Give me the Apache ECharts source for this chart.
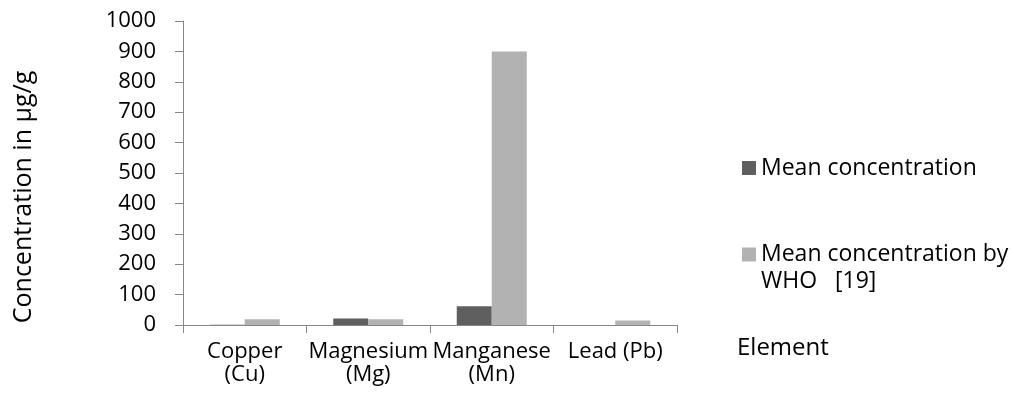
<!DOCTYPE html>
<html>
<head>
<meta charset="utf-8">
<script src="https://cdn.jsdelivr.net/npm/echarts@6/dist/echarts.min.js"></script>
<style>
html,body{margin:0;padding:0;background:#fff;}
#c{width:1013px;height:417px;}
</style>
</head>
<body>
<div id="c"></div>
<script>
const categories = ['Copper\n(Cu)', 'Magnesium\n(Mg)', 'Manganese\n(Mn)', 'Lead (Pb)'];
const meanConcentration = [0.5, 21, 62, 0.3];
const whoConcentration = [19, 19, 900, 15];
const seriesNames = ['Mean concentration', 'Mean concentration by\nWHO   [19]'];
const yTicks = { min: 0, max: 1000, interval: 100 };
const yAxisTitle = 'Concentration in µg/g';
const xAxisTitle = 'Element';

const FONT = 'Open Sans';
const FS = 22;
const chart = echarts.init(document.getElementById('c'), null, {renderer: 'canvas'});
chart.setOption({
  animation: false,
  backgroundColor: '#ffffff',
  textStyle: { fontFamily: FONT, color: '#000' },
  grid: { left: 183, right: 336, top: 21, bottom: 92, containLabel: false },
  legend: [
    {
      data: [seriesNames[0]],
      left: 737, top: 150, orient: 'vertical',
      itemWidth: 14, itemHeight: 14, itemGap: 8,
      icon: 'rect',
      textStyle: { fontFamily: FONT, fontSize: 23, color: '#000', lineHeight: 26 }
    },
    {
      data: [seriesNames[1]],
      left: 737, top: 209, orient: 'vertical',
      itemWidth: 14, itemHeight: 14, itemGap: 8,
      icon: 'rect',
      formatter: function (n) { return ' \n' + n; },
      textStyle: { fontFamily: FONT, fontSize: 23, color: '#000', lineHeight: 27 }
    }
  ],
  xAxis: {
    type: 'category',
    data: categories,
    name: xAxisTitle,
    nameLocation: 'end',
    nameGap: 60,
    nameTextStyle: { fontFamily: FONT, fontSize: 24, color: '#000', align: 'left', verticalAlign: 'top', lineHeight: 46 },
    axisLine: { lineStyle: { color: '#868686', width: 1 } },
    axisTick: { show: true, length: 8, alignWithLabel: false, lineStyle: { color: '#868686' } },
    axisLabel: { interval: 0, margin: 15, fontFamily: FONT, fontSize: FS, color: '#000', lineHeight: 23 },
    splitLine: { show: false }
  },
  yAxis: {
    type: 'value',
    min: yTicks.min, max: yTicks.max, interval: yTicks.interval,
    axisLine: { show: true, lineStyle: { color: '#868686', width: 1 } },
    axisTick: { show: true, length: 8, lineStyle: { color: '#868686' } },
    axisLabel: { margin: 27, fontFamily: FONT, fontSize: FS, color: '#000', formatter: function (v) { return String(v); } },
    splitLine: { show: false }
  },
  graphic: [
    {
      type: 'text',
      x: 24, y: 197,
      rotation: Math.PI / 2,
      style: {
        text: yAxisTitle,
        fontFamily: FONT, fontSize: 25, fill: '#000',
        align: 'center', verticalAlign: 'middle'
      }
    }
  ],
  series: [
    {
      name: seriesNames[0], type: 'bar', data: meanConcentration,
      barWidth: 35, barGap: '0%',
      itemStyle: { color: '#5f5f5f' }
    },
    {
      name: seriesNames[1], type: 'bar', data: whoConcentration,
      barWidth: 35, barGap: '0%',
      itemStyle: { color: '#b2b2b2' }
    }
  ]
});
</script>
</body>
</html>
